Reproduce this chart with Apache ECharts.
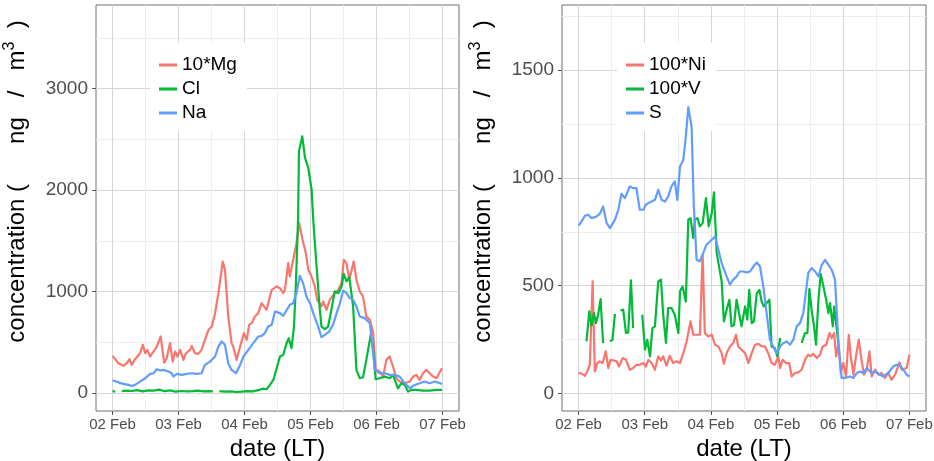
<!DOCTYPE html>
<html><head><meta charset="utf-8">
<script src="https://cdn.jsdelivr.net/npm/echarts@6/dist/echarts.min.js"></script>
<style>html,body{margin:0;padding:0;background:#fff}#c{width:934px;height:461px}</style>
</head><body><div id="c"></div>
<script>
// ---- time axis ticks (hours since 02 Feb 00:00 LT) ----
const xTickHours = [0, 24, 48, 72, 96, 120];
const xTickLabels = ['02 Feb', '03 Feb', '04 Feb', '05 Feb', '06 Feb', '07 Feb'];
const leftYTicks = [0, 1000, 2000, 3000];
const rightYTicks = [0, 500, 1000, 1500];

// ---- left panel: 10*Mg, Cl, Na (ng/m3) ----
const mgT = [0,2.2,4.0,5.2,6.2,7.0,8.2,8.8,10.0,11.0,11.9,12.7,13.7,14.9,16.1,17.5,18.8,19.7,20.9,21.9,22.8,23.6,24.6,25.8,26.7,28.2,28.8,30.0,31.2,32.4,33.6,34.9,36.1,37.3,38.5,40.1,40.9,42.1,43.3,43.9,45.1,46.4,47.8,48.8,49.7,50.6,51.8,53.0,54.2,55.1,56.0,57.9,59.7,60.9,62.1,62.7,63.9,64.5,65.7,66.9,67.9,69.1,70.3,71.2,72.4,73.6,74.4,76.0,76.6,77.8,79.0,80.8,82.1,83.3,84.1,85.1,86.1,87.7,88.7,89.9,91.1,92.3,93.6,94.8,95.7,97.2,98.4,99.6,100.8,102.0,103.2,104.4,106.3,108.1,109.3,110.5,111.7,112.9,114.1,115.3,116.6,117.8,119.8];
const mgV = [368,296,270,296,335,279,335,329,394,477,394,427,362,411,460,559,302,345,493,312,411,362,427,329,394,427,467,394,388,427,526,625,657,789,986,1298,1216,756,493,460,329,460,592,526,674,690,756,789,887,855,822,1019,1052,1035,986,1019,1282,1150,1315,1479,1676,1512,1381,1216,1150,1052,920,855,904,822,920,986,1019,1085,1315,1282,1118,1298,1118,1003,953,756,723,592,230,214,164,329,362,263,148,115,99,115,164,181,131,197,230,197,164,148,247];

const clT = [0,1.0,2.0,3.4,5,7,9,11,13,15,17,19,21,23,25,27,29,31,33,35,36.5,37.7,38.9,41,43,45,47,49,51,53,54.5,56.0,57.2,58.5,59.7,60.9,62.1,63.3,64.1,65.1,66.0,66.7,67.5,67.8,69.0,70.0,71.2,72.4,73.0,74.2,75.4,76.0,77.2,78.4,79.6,80.8,82.1,83.3,84.1,85.1,86.1,87.5,88.7,89.9,91.1,92.3,93.9,94.8,95.7,97.2,99.0,100.8,102.0,103.8,105.1,106.3,107.5,108.7,110.5,112.9,115.3,117.8,119.8];
const clV = [18,18,null,20,25,22,30,18,28,25,35,20,28,15,22,18,20,25,18,20,18,null,20,15,18,12,15,20,18,30,45,39,80,131,246,362,378,493,542,444,657,1085,1742,2383,2531,2318,2219,2005,1709,1249,822,657,631,657,822,1003,986,1052,1177,1101,1144,855,230,148,158,329,575,427,138,148,164,148,181,49,99,82,16,33,33,26,26,33,33];

const naT = [0,1.6,2.8,4.0,5.8,7.0,8.2,10.0,11.9,13.7,14.9,16.1,17.3,18.5,20.3,21.5,22.1,23.4,25.2,27.0,28.8,30.6,32.4,33.6,35.5,37.3,38.5,39.7,40.9,42.1,43.3,44.9,46.4,47.6,49.4,51.2,53.0,54.2,55.4,56.6,57.9,59.1,60.9,62.1,63.4,64.5,65.7,66.9,68.1,69.3,70.5,71.8,73.0,74.8,76.0,77.2,78.8,80.2,81.5,82.7,83.9,85.1,86.3,87.5,88.7,89.9,91.7,93.6,95.4,97.2,99.0,100.8,102.6,104.4,106.3,108.1,109.9,111.7,113.5,115.3,117.2,119.8];
const naV = [125,115,99,92,82,72,82,115,148,191,197,237,224,230,214,197,164,191,181,191,197,191,197,279,312,362,460,510,477,296,230,197,279,362,427,493,559,565,592,657,674,805,789,763,822,871,887,986,1157,1085,953,887,789,657,552,575,608,674,789,887,1012,986,937,920,855,756,740,690,230,197,197,181,181,164,99,49,82,99,115,99,115,92];

// ---- right panel: 100*Ni, 100*V, S (ng/m3) ----
const niT = [0,1.1,2.3,3.1,4.1,5.1,5.9,6.8,7.7,8.7,9.9,10.8,11.6,12.8,13.8,14.7,16.0,17.2,18.6,19.8,21.0,22.2,23.5,24.4,25.3,26.5,27.7,28.9,29.9,30.7,31.9,33.1,34.3,35.5,36.8,38.0,39.2,40.6,41.6,42.8,44.0,45.0,45.8,47.0,48.3,49.5,50.7,51.9,52.7,53.7,54.9,56.1,57.1,57.9,59.1,60.4,61.6,62.8,64.0,65.2,66.4,67.6,68.8,70.0,71.2,72.4,73.1,74.0,75.2,76.4,77.3,78.5,79.7,80.9,82.1,83.3,84.2,85.1,86.4,87.6,88.5,89.8,91.0,91.8,92.7,93.4,94.2,95.1,96.0,97.0,98.0,98.7,99.7,100.6,101.6,102.6,103.5,104.5,105.5,106.3,107.5,108.8,109.9,111.1,112.3,113.5,114.8,116.4,117.2,119.0,120.0];
const niV = [96,93,83,103,134,520,103,142,150,142,196,119,157,154,150,126,165,157,111,119,134,134,142,126,157,142,111,173,154,173,130,176,142,150,142,188,242,335,273,273,273,643,281,265,273,227,219,188,139,188,219,235,273,219,204,188,142,188,227,231,219,219,188,142,134,173,119,157,142,142,80,96,99,111,157,181,173,185,165,181,219,227,281,258,281,173,231,96,142,80,273,173,88,173,250,157,88,111,196,80,111,88,96,73,96,65,88,145,111,119,181];

const vT = [2.9,3.9,4.7,5.6,6.3,7.1,8.0,8.9,10.0,11.4,12.3,13.2,14.2,15.2,16.2,17.2,18.0,19.0,19.8,21.5,23.1,24.1,24.9,25.9,26.8,27.7,28.9,29.9,30.7,31.7,32.5,33.7,34.9,36.2,36.8,37.7,38.9,39.8,40.6,41.6,42.2,43.1,44.0,45.0,46.2,47.2,48.3,49.1,50.1,51.9,52.7,53.7,54.7,55.5,56.4,57.3,58.3,59.1,60.4,61.2,61.9,62.8,63.6,64.6,65.6,66.4,67.2,68.2,69.2,70.0,71.2,72.1,73.1,77.0,80.9,82.1,83.0,83.7,84.5,85.4,86.1,87.0,87.8,88.8,89.8,90.6,91.2,92.2,92.7,93.4,94.2];
const vV = [242,381,315,373,327,366,438,235,null,242,250,370,null,386,389,281,284,525,304,null,366,204,250,173,304,312,520,528,366,235,397,397,366,281,474,497,427,806,813,721,806,813,775,790,906,775,836,932,651,520,335,389,435,312,319,435,366,312,404,343,481,327,335,463,481,427,404,420,435,219,211,173,258,null,235,281,281,485,389,312,227,435,555,497,435,373,420,312,404,412,235];

const sT = [0,1.1,2.3,3.5,4.7,6.5,7.7,8.9,10.2,11.4,12.0,13.2,14.4,15.6,16.8,18.6,19.8,21.0,22.2,23.5,24.4,25.3,26.5,27.7,28.9,30.1,31.3,32.5,33.7,34.9,35.8,36.8,38.0,38.9,39.8,41.0,41.8,42.2,42.8,44.0,45.2,46.4,48.3,49.5,50.7,51.9,53.7,54.9,56.1,57.3,58.5,59.7,61.0,62.2,63.4,64.6,65.8,67.0,68.2,69.4,70.6,71.8,73.1,74.3,75.5,76.7,77.9,79.1,80.3,81.5,83.3,84.5,85.8,87.0,88.2,89.4,90.6,91.8,93.0,94.2,95.4,96.6,98.5,99.7,100.9,102.1,103.3,104.5,106.3,107.5,109.3,110.5,112.3,114.2,115.4,116.6,117.8,119.0,120.0];
const sV = [778,798,824,829,813,821,833,867,790,767,759,805,852,926,906,960,952,952,852,852,875,883,890,898,944,898,890,913,960,983,898,1052,1083,1191,1327,1237,867,775,620,613,651,690,713,728,667,605,543,505,528,543,566,566,562,566,589,608,589,497,373,250,219,188,219,235,242,227,250,312,327,373,559,582,566,543,597,620,597,574,528,250,73,73,80,73,96,103,96,119,96,103,88,80,96,127,134,130,111,88,80];

// ---- styling ----
const FONT = '"Liberation Sans", Arial, Helvetica, sans-serif';
const RED = '#F8766D', GREEN = '#00BA38', BLUE = '#619CFF';
const MAJOR = '#d6d6d6', MINOR = '#eeeeee', BORDER = '#6e6e6e', TICKC = '#555555', LABC = '#4d4d4d';

function pairs(t, v) { return t.map((h, i) => [h, v[i] == null ? '-' : v[i]]); }
function catRange(lo, hi, step) { const a = []; for (let k = Math.round(lo / step); k <= Math.round(hi / step); k++) a.push(String(k * step)); return a; }

const X_RANGE = [-6, 126];
const panels = [
  { grid: { left: 96, right: 475 }, yRange: [-175, 3825], yStep: 25, yTicks: leftYTicks, yMinorStep: 1000,
    legend: { left: 150, names: ['10*Mg', 'Cl', 'Na'] },
    series: [['10*Mg', mgT, mgV, RED], ['Cl', clT, clV, GREEN], ['Na', naT, naV, BLUE]] },
  { grid: { left: 562, right: 8 }, yRange: [-80, 1800], yStep: 10, yTicks: rightYTicks, yMinorStep: 500,
    legend: { left: 617, names: ['100*Ni', '100*V', 'S'] },
    series: [['100*Ni', niT, niV, RED], ['100*V', vT, vV, GREEN], ['S', sT, sV, BLUE]] }
];

const SP = '\u00a0';
const yTitle = '{t|concentration (' + SP.repeat(6) + 'ng' + SP.repeat(3) + '/' + SP.repeat(3) + 'm}{s|3}{t|' + SP.repeat(2) + ')}';
const grids = [], xAxes = [], yAxes = [], series = [], legends = [];

panels.forEach((p, gi) => {
  grids.push({ left: p.grid.left, right: p.grid.right, top: 5, bottom: 50, show: true,
    backgroundColor: '#fff', borderColor: BORDER, borderWidth: 1, outerBoundsMode: 'none' });
  const xc = catRange(X_RANGE[0], X_RANGE[1], 6);
  const yc = catRange(p.yRange[0], p.yRange[1], p.yStep);
  const xMajor = (i, v) => xTickHours.indexOf(+v) >= 0;
  const xMinor = (i, v) => (+v) % 24 === 12;
  const yMajor = (i, v) => p.yTicks.indexOf(+v) >= 0;
  const yMinor = (i, v) => { const n = +v; return n > 0 && n % (p.yMinorStep / 2) === 0 && n % p.yMinorStep !== 0; };

  const xBase = xAxes.length;
  xAxes.push({ type: 'value', gridIndex: gi, min: X_RANGE[0], max: X_RANGE[1], show: false });
  xAxes.push({ type: 'category', gridIndex: gi, data: xc, boundaryGap: false, position: 'bottom',
    axisLine: { show: false },
    axisTick: { show: true, interval: xMajor, length: 4, lineStyle: { color: TICKC, width: 1 } },
    axisLabel: { show: true, interval: xMajor, margin: 6, color: LABC, fontSize: 15, fontFamily: FONT,
      formatter: v => xTickLabels[xTickHours.indexOf(+v)] || '' },
    splitLine: { show: true, interval: xMajor, lineStyle: { color: MAJOR, width: 1 } },
    name: 'date (LT)', nameLocation: 'middle', nameGap: 19,
    nameTextStyle: { fontSize: 24, color: '#000', fontFamily: FONT } });
  xAxes.push({ type: 'category', gridIndex: gi, data: xc, boundaryGap: false, position: 'bottom',
    axisLine: { show: false }, axisTick: { show: false }, axisLabel: { show: false },
    splitLine: { show: true, interval: xMinor, lineStyle: { color: MINOR, width: 1 } } });

  const yBase = yAxes.length;
  yAxes.push({ type: 'value', gridIndex: gi, min: p.yRange[0], max: p.yRange[1], show: false });
  yAxes.push({ type: 'category', gridIndex: gi, data: yc, boundaryGap: false, position: 'left',
    axisLine: { show: false },
    axisTick: { show: true, interval: yMajor, length: 4, lineStyle: { color: TICKC, width: 1 } },
    axisLabel: { show: true, interval: yMajor, margin: 8, color: LABC, fontSize: 19, fontFamily: FONT },
    splitLine: { show: true, interval: yMajor, lineStyle: { color: MAJOR, width: 1 } },
    name: yTitle, nameLocation: 'middle', nameGap: 64, nameRotate: 90,
    nameTextStyle: { fontSize: 24, color: '#000', fontFamily: FONT, padding: [0, 0, 0, 53],
      rich: { t: { fontSize: 24, fontFamily: FONT, color: '#000', lineHeight: 30 },
              s: { fontSize: 16, fontFamily: FONT, color: '#000', verticalAlign: 'top', lineHeight: 18 } } } });
  yAxes.push({ type: 'category', gridIndex: gi, data: yc, boundaryGap: false, position: 'left',
    axisLine: { show: false }, axisTick: { show: false }, axisLabel: { show: false },
    splitLine: { show: true, interval: yMinor, lineStyle: { color: MINOR, width: 1 } } });

  p.series.forEach(([name, t, v, col]) => {
    series.push({ type: 'line', name, xAxisIndex: xBase, yAxisIndex: yBase, data: pairs(t, v),
      symbol: 'none', showSymbol: false, connectNulls: false, animation: false, z: 3,
      lineStyle: { width: 2.2, color: col, join: 'round' }, itemStyle: { color: col } });
  });

  legends.push({ data: p.legend.names, left: p.legend.left, top: 43, orient: 'vertical',
    backgroundColor: '#fff', padding: [10, 10, 6, 9], itemGap: 0, itemWidth: 18, itemHeight: 3,
    icon: 'rect', selectedMode: false, z: 1,
    textStyle: { fontSize: 19, color: '#000', fontFamily: FONT, lineHeight: 24 } });
});

const chart = echarts.init(document.getElementById('c'), null, { renderer: 'canvas' });
chart.setOption({ animation: false, backgroundColor: '#fff', grid: grids, xAxis: xAxes, yAxis: yAxes,
  legend: legends, series });
</script></body></html>
